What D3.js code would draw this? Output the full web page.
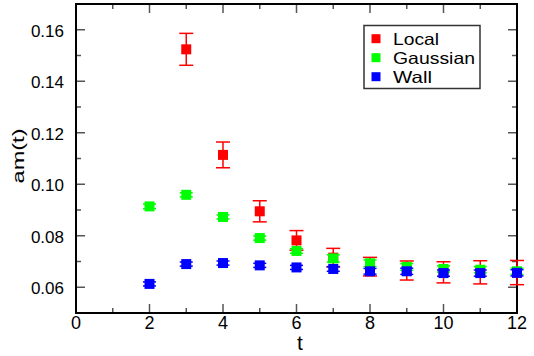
<!DOCTYPE html>
<html>
<head>
<meta charset="utf-8">
<script src="https://cdn.jsdelivr.net/npm/d3@7"></script>
<style>
  html, body { margin: 0; padding: 0; background: #fff; }
  svg { display: block; font-family: "Liberation Sans", Arial, sans-serif; }
</style>
</head>
<body>
<svg id="chart" width="534" height="356"></svg>
<script>
// Effective mass am(t) for three source smearings
const tLocal    = [3, 4, 5, 6, 7, 8, 9, 10, 11, 12];
const amLocal   = [0.1524, 0.1114, 0.0895, 0.0782, 0.0715, 0.0680, 0.0665, 0.0658, 0.0658, 0.0657];
const errLocal  = [0.0062, 0.0050, 0.0041, 0.0038, 0.0036, 0.0036, 0.0037, 0.0041, 0.0045, 0.0047];

const tGauss    = [2, 3, 4, 5, 6, 7, 8, 9, 10, 11, 12];
const amGauss   = [0.0914, 0.0959, 0.0873, 0.0791, 0.0741, 0.0712, 0.0693, 0.0679, 0.0671, 0.0668, 0.0662];
const errGauss  = [0.0009, 0.0008, 0.0008, 0.0008, 0.0009, 0.0014, 0.0013, 0.0013, 0.0012, 0.0012, 0.0012];

const tWall     = [2, 3, 4, 5, 6, 7, 8, 9, 10, 11, 12];
const amWall    = [0.0613, 0.0690, 0.0694, 0.0685, 0.0677, 0.0671, 0.0662, 0.0662, 0.0655, 0.0655, 0.0656];
const errWall   = [0.0008, 0.0008, 0.0008, 0.0008, 0.0008, 0.0009, 0.0011, 0.0012, 0.0012, 0.0012, 0.0012];

const seriesNames  = ["Local", "Gaussian", "Wall"];
const seriesColors = ["#ff0000", "#00ff00", "#0000ff"];

const xTicks = [0, 2, 4, 6, 8, 10, 12];
const yTicks = [0.06, 0.08, 0.10, 0.12, 0.14, 0.16];

const svg = d3.select("#chart");
const L = 76, R = 517, T = 4, B = 313;

const x = d3.scaleLinear().domain([0, 12]).range([L, R]);
const y = d3.scaleLinear().domain([0.05, 0.17]).range([B, T]);

// tick marks on all four sides, pointing inward
const tickG = svg.append("g").attr("stroke", "#555").attr("stroke-width", 1.5);
const xMinor = d3.range(0, 13, 1);
const yMinor = d3.range(0.05, 0.1701, 0.01);
xMinor.forEach(v => {
  const major = v % 2 === 0;
  const len = major ? 9 : 5;
  tickG.append("line").attr("x1", x(v)).attr("x2", x(v)).attr("y1", B).attr("y2", B - len);
  tickG.append("line").attr("x1", x(v)).attr("x2", x(v)).attr("y1", T).attr("y2", T + len);
});
yMinor.forEach(v => {
  const major = Math.abs(Math.round(v * 100) % 2) === 0;
  const len = major ? 9 : 5;
  tickG.append("line").attr("x1", L).attr("x2", L + len).attr("y1", y(v)).attr("y2", y(v));
  tickG.append("line").attr("x1", R).attr("x2", R - len).attr("y1", y(v)).attr("y2", y(v));
});

// frame
svg.append("rect").attr("x", L).attr("y", T).attr("width", R - L).attr("height", B - T)
  .attr("fill", "none").attr("stroke", "#000").attr("stroke-width", 2);

// tick labels
svg.append("g").selectAll("text").data(xTicks).join("text")
  .attr("x", d => x(d)).attr("y", B + 16)
  .attr("text-anchor", "middle").attr("font-size", 18).attr("fill", "#000")
  .text(d => d);
svg.append("g").selectAll("text").data(yTicks).join("text")
  .attr("x", L - 12).attr("y", d => y(d) + 7)
  .attr("text-anchor", "end").attr("font-size", 17).attr("fill", "#000")
  .text(d => d.toFixed(2));

// axis titles
svg.append("text").attr("x", 300).attr("y", 350)
  .attr("text-anchor", "middle").attr("font-size", 21).text("t");
svg.append("text").attr("transform", "translate(24,156) rotate(-90)")
  .attr("text-anchor", "middle").attr("font-size", 16)
  .attr("textLength", 55).attr("lengthAdjust", "spacingAndGlyphs")
  .text("am(t)");

// data with error bars
function drawSeries(ts, vals, errs, color, cap) {
  const g = svg.append("g");
  ts.forEach((t, i) => {
    const cx = x(t);
    const yt = y(vals[i] + errs[i]), yb = y(vals[i] - errs[i]);
    g.append("line").attr("x1", cx).attr("x2", cx).attr("y1", yt).attr("y2", yb)
      .attr("stroke", color).attr("stroke-width", 1.5);
    [yt, yb].forEach(yy => g.append("line")
      .attr("x1", cx - cap / 2).attr("x2", cx + cap / 2).attr("y1", yy).attr("y2", yy)
      .attr("stroke", color).attr("stroke-width", 1.5));
    g.append("rect").attr("x", cx - 5).attr("y", y(vals[i]) - 5)
      .attr("width", 10).attr("height", 10).attr("fill", color);
  });
}
drawSeries(tLocal, amLocal, errLocal, seriesColors[0], 14);
drawSeries(tGauss, amGauss, errGauss, seriesColors[1], 13);
drawSeries(tWall, amWall, errWall, seriesColors[2], 13);

// legend
const legendWidths = [46, 82, 39];
const lg = svg.append("g");
lg.append("rect").attr("x", 364).attr("y", 25.5).attr("width", 116).attr("height", 63)
  .attr("fill", "#fff").attr("stroke", "#333").attr("stroke-width", 1.5);
seriesNames.forEach((name, i) => {
  const cy = 38.7 + i * 19;
  lg.append("rect").attr("x", 371.5).attr("y", cy - 4.5).attr("width", 9).attr("height", 9)
    .attr("fill", seriesColors[i]);
  lg.append("text").attr("x", 393).attr("y", cy + 6.5).attr("font-size", 16.5)
    .attr("textLength", legendWidths[i]).attr("lengthAdjust", "spacingAndGlyphs")
    .text(name);
});
</script>
</body>
</html>
